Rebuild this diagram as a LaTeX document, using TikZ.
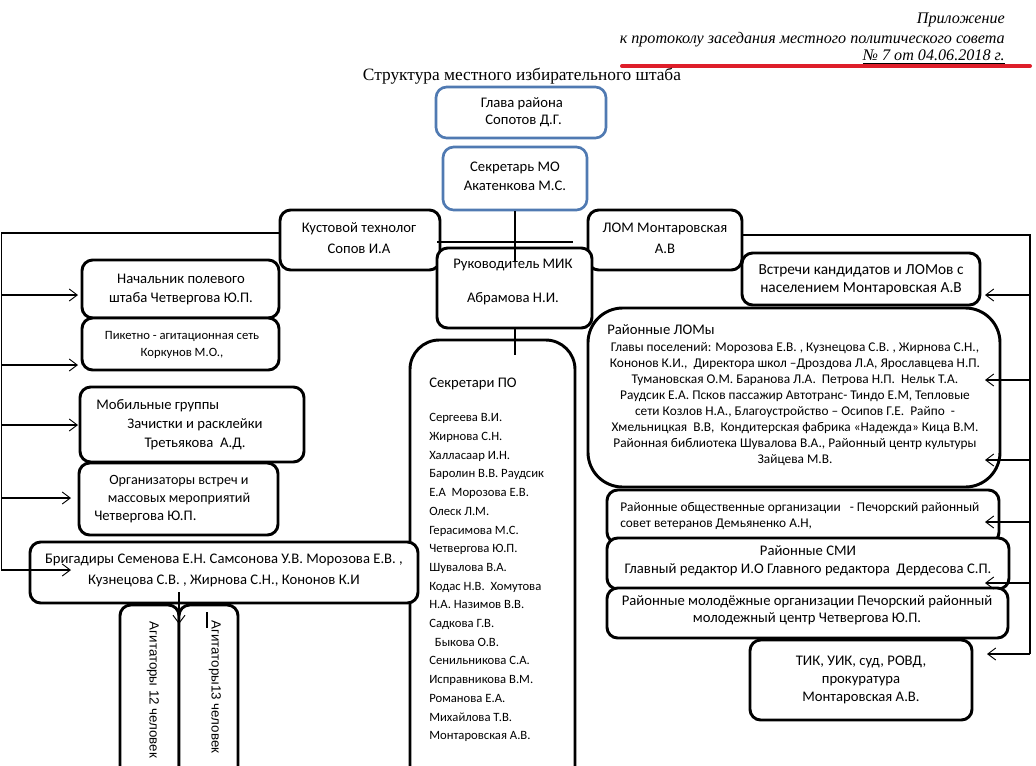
\documentclass[tikz,border=0pt]{standalone}
\usepackage{fontspec}
\setmainfont{Carlito}
\newfontfamily\serif{Liberation Serif}
\newfontfamily\arialf{Liberation Sans}
\usetikzlibrary{arrows.meta}
\definecolor{myblue}{RGB}{80,122,178}
\definecolor{myred}{RGB}{222,30,42}
\newcommand\mkbox[6][bx]{\node[#1, minimum width={(#4-#2)*0.75pt}, minimum height={(#5-#3)*0.75pt}] (#6) at ({(#2+#4)/2},{(#3+#5)/2}) {};}
\tikzset{
  bx/.style={draw, line width=2.2pt, rounded corners=8pt, fill=white, inner sep=0pt},
  bb/.style={draw=myblue, line width=2pt, rounded corners=8pt, fill=white, inner sep=0pt},
  tx/.style={inner sep=0pt, align=center, font=\fontsize{11}{14.25}\selectfont},
  sm/.style={inner sep=0pt, align=center, font=\fontsize{9.5}{12}\selectfont},
  hdr/.style={inner sep=0pt, font=\serif\itshape\fontsize{12.1}{14}\selectfont},
  conn/.style={line width=0.8pt},
  arr/.style={line width=0.8pt, -{Straight Barb[length=6pt,width=9pt,line width=0.7pt]}},
}
\begin{document}
\begin{tikzpicture}[x=0.75pt,y=-0.75pt]
\useasboundingbox (0,0) rectangle (1036,765);
\clip (0,0) rectangle (1036,765);
\fill[white] (0,0) rectangle (1036,765);
% header
\node[hdr, anchor=east] (h1) at (1005,20) {Приложение};
\node[hdr, anchor=east] (h2) at (1005,40) {к протоколу заседания местного политического совета};
\node[hdr, anchor=east] (h3) at (1005,57) {\underline{№ 7 от 04.06.2018 г.}};
\coordinate (red1) at (622,66);
\coordinate (red2) at (1030,66);
\draw[myred, line width=3pt, line cap=round] (red1) -- (red2);
\node[inner sep=0pt, font=\serif\fontsize{13}{14}\selectfont] (title) at (522,76) {Структура местного избирательного штаба};
% top boxes
\mkbox[bb]{436}{87}{606}{138}{glava}
\node[tx, font=\fontsize{11}{12.75}\selectfont] (tglava) at (522,112.5) {Глава района\\\ Сопотов Д.Г.};
\mkbox[bb]{443}{147}{587}{210}{smo}
\node[tx] (tsmo) at (515,176.5) {Секретарь МО\\Акатенкова М.С.};
\mkbox{280}{210}{440}{270}{kust}
\node[tx, font=\fontsize{11}{15.75}\selectfont] (tkust) at (359,238.5) {Кустовой технолог\\Сопов И.А};
\mkbox{588}{210}{742}{270}{lom}
\node[tx, font=\fontsize{11}{15.75}\selectfont] (tlom) at (665,238.5) {ЛОМ Монтаровская\\А.В};
\mkbox{437}{248}{592}{328}{mik}
\node[tx, font=\fontsize{11}{25.5}\selectfont] (tmik) at (513,282) {Руководитель МИК\\Абрамова Н.И.};
% Secretaries PO
\mkbox[bx, rounded corners=22pt]{410}{340}{575}{800}{spo}
\node[tx, anchor=west] (tspo) at (429,384) {Секретари ПО};
\foreach \t [count=\i] in {Сергеева В.И., Жирнова С.Н., Халласаар И.Н., Баролин В.В. Раудсик, Е.А\ \ Морозова Е.В., Олеск Л.М., Герасимова М.С., Четвергова Ю.П., Шувалова В.А., Кодас Н.В.\ \ Хомутова, Н.А. Назимов В.В., Садкова Г.В., \ \ Быкова О.В., Сенильникова С.А., Исправникова В.М., Романова Е.А., Михайлова Т.В., Монтаровская А.В.}
  \node[sm, anchor=base west] (sp\i) at (429,{421.8+(\i-1)*18.7}) {\t};
% left boxes
\mkbox{82}{260}{279}{318}{nach}
\node[tx] (tnach) at (181,289.5) {Начальник полевого\\штаба Четвергова Ю.П.};
\mkbox{82}{318}{279}{370}{pik}
\node[sm, font=\fontsize{9.5}{12.75}\selectfont] (tpik) at (182,344.5) {Пикетно - агитационная сеть\\Коркунов М.О.,};
\mkbox{80}{387}{304}{462}{mob}
\node[tx, anchor=west] (tmob1) at (96,406) {Мобильные группы};
\node[tx] (tmob2) at (195,434.5) {Зачистки и расклейки\\Третьякова\ \ А.Д.};
\mkbox{79}{463}{278}{535}{org}
\node[tx, font=\fontsize{10.6}{13.5}\selectfont] (torg1) at (179,490) {Организаторы встреч и\\массовых мероприятий};
\node[tx, anchor=west] (torg2) at (94,517) {Четвергова Ю.П.};
\mkbox{30}{542}{418}{603}{brig}
\node[tx, font=\fontsize{11}{15.75}\selectfont] (tbrig) at (224,570.5) {Бригадиры Семенова Е.Н. Самсонова У.В. Морозова Е.В. ,\\Кузнецова С.В. , Жирнова С.Н., Кононов К.И};
\mkbox{120}{605}{179}{800}{ag1}
\mkbox{179}{605}{238}{800}{ag2}
\node[inner sep=0pt, rotate=-90, font=\arialf\fontsize{10}{11}\selectfont] (tag1) at (153,690) {Агитаторы 12 человек};
\node[inner sep=0pt, rotate=-90, font=\arialf\fontsize{10}{11}\selectfont] (tag2) at (215,687) {Агитаторы13 человек};
\coordinate (mk1) at (207,612);
\coordinate (mk2) at (207,628);
\draw[line width=0.8pt] (mk1) -- (mk2);
% right boxes
\mkbox{742}{253}{980}{305}{vstr}
\node[tx, font=\fontsize{11.5}{13.5}\selectfont] (tvstr) at (861,280) {Встречи кандидатов и ЛОМов с\\населением Монтаровская А.В};
\mkbox[bx, rounded corners=26pt]{588}{308}{1000}{487}{loms}
\node[tx, anchor=west] (tloms1) at (607,330) {Районные ЛОМы};
\node[sm, font=\fontsize{10}{12}\selectfont] (tloms2) at (795,404) {Главы поселений: Морозова Е.В. , Кузнецова С.В. , Жирнова С.Н.,\\Кононов К.И.,\ \ Директора школ –Дроздова Л.А, Ярославцева Н.П.\\Тумановская О.М. Баранова Л.А.\ \ Петрова Н.П.\ \ Нельк Т.А.\\Раудсик Е.А. Псков пассажир Автотранс- Тиндо Е.М, Тепловые\\сети Козлов Н.А., Благоустройство – Осипов Г.Е.\ \ Райпо\ \ -\\Хмельницкая\ \ В.В,\ \ Кондитерская фабрика «Надежда» Кица В.М.\\Районная библиотека Шувалова В.А., Районный центр культуры\\Зайцева М.В.};
\mkbox{607}{490}{999}{543}{obsh}
\node[sm, align=left, anchor=west, font=\fontsize{10}{12}\selectfont] (tobsh) at (620,516) {Районные общественные организации\ \ \ - Печорский районный\\совет ветеранов Демьяненко А.Н,};
\mkbox{607}{538}{1009}{589}{smi}
\node[tx, font=\fontsize{11}{13.5}\selectfont] (tsmi) at (808,561) {Районные СМИ\\Главный редактор И.О Главного редактора\ \ Дердесова С.П.};
\mkbox{607}{588}{1008}{638}{mol}
\node[tx, font=\fontsize{11}{12.75}\selectfont] (tmol) at (807,610.5) {Районные молодёжные организации Печорский районный\\молодежный центр Четвергова Ю.П.};
\mkbox{750}{640}{972}{720}{tik}
\node[tx, font=\fontsize{11}{13.5}\selectfont] (ttik) at (861,680) {ТИК, УИК, суд, РОВД,\\прокуратура\\Монтаровская А.В.};
% central connectors
\coordinate (mikin) at (515,262);
\draw[conn] (smo.south) -- (mikin);
\coordinate (spoin) at (515,355);
\draw[conn] (mik.south -| spoin) -- (spoin);
\coordinate (hl1) at (437,242);
\coordinate (hl2) at (573,242);
\draw[conn] (hl1) -- (hl2);
% left trunk
\coordinate (L0) at (1.5,233);
\coordinate (L1) at (1.5,570);
\draw[conn] (kust.west |- L0) -- (L0) -- (L1);
\coordinate (a1) at (78,295);
\coordinate (a2) at (78,365);
\coordinate (a3) at (78,425);
\coordinate (a4) at (71,498);
\coordinate (a5) at (71,570);
\foreach \c in {a1,a2,a3,a4,a5} \draw[arr] (L0 |- \c) -- (\c);
% brigade to agitators
\coordinate (b1) at (179,592);
\coordinate (b2) at (179,624);
\draw[arr] (b1) -- (b2);
% right trunk
\coordinate (R0) at (1030,235);
\coordinate (R1) at (1030,654);
\draw[conn] (lom.east |- R0) -- (R0) -- (R1);
\coordinate (r1) at (985,295);
\coordinate (r2) at (985,380);
\coordinate (r3) at (985,460);
\coordinate (r4) at (985,522);
\coordinate (r5) at (985,583);
\coordinate (r6) at (987,654);
\foreach \c in {r1,r2,r3,r4,r5,r6} \draw[arr] (R0 |- \c) -- (\c);
\end{tikzpicture}
\end{document}
